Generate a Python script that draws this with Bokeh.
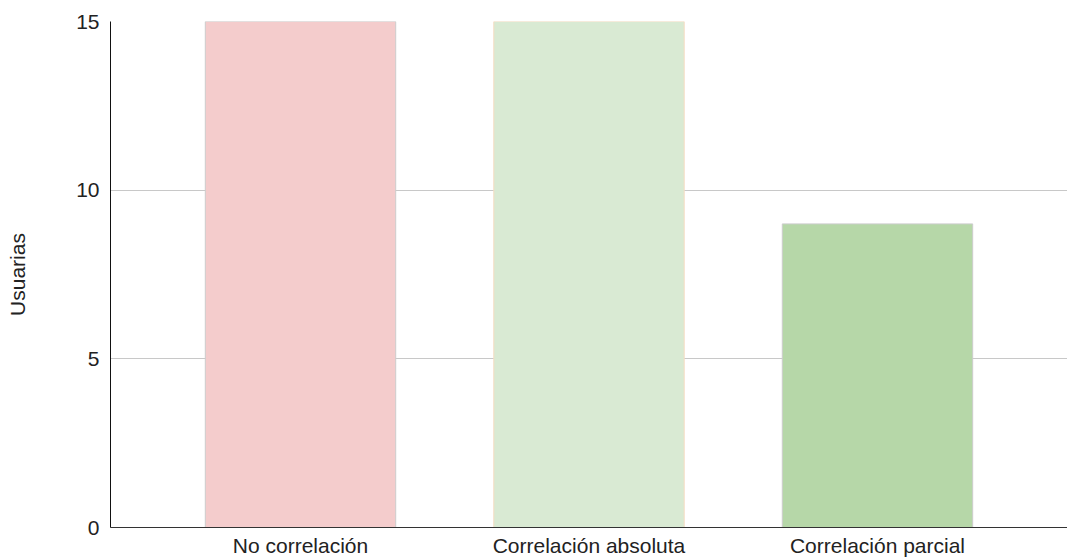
from bokeh.plotting import figure
from bokeh.models import FactorRange, ColumnDataSource, FixedTicker
from bokeh.embed import file_html
from bokeh.resources import INLINE

categories = ["No correlación", "Correlación absoluta", "Correlación parcial"]
usuarias = [15, 15, 9]
bar_colors = ["#f4cccc", "#d9ead3", "#b6d7a8"]
bar_lines = ["#cccccc", "#f6dcc2", "#cccccc"]
y_ticks = [0, 5, 10, 15]

source = ColumnDataSource(dict(cat=categories, val=usuarias, fill=bar_colors, line=bar_lines))

p = figure(
    width=1067, height=559,
    x_range=FactorRange(factors=categories, range_padding=0.1586, range_padding_units="absolute"),
    y_range=(0, 15),
    output_backend="svg", toolbar_location=None,
    min_border_left=110, min_border_right=0, min_border_top=21, min_border_bottom=31,
)
p.vbar(x="cat", top="val", width=0.66, source=source,
       fill_color="fill", line_color="line", line_width=1)

font = "Liberation Sans"
p.outline_line_color = None
p.xgrid.grid_line_color = None
p.ygrid.grid_line_color = "#c8c8c8"
p.ygrid.grid_line_width = 1

p.yaxis.ticker = FixedTicker(ticks=y_ticks)
p.yaxis.axis_label = "Usuarias"
p.yaxis.axis_label_text_font = font
p.yaxis.axis_label_text_font_size = "21px"
p.yaxis.axis_label_text_font_style = "normal"
p.yaxis.axis_label_text_color = "#222222"
p.yaxis.axis_label_standoff = 44
p.yaxis.major_label_standoff = 11
p.yaxis.axis_line_color = "#111111"

for ax in (p.xaxis[0], p.yaxis[0]):
    ax.major_label_text_font = font
    ax.major_label_text_font_size = "21px"
    ax.major_label_text_color = "#222222"
    ax.major_tick_line_color = None
    ax.minor_tick_line_color = None
    ax.major_tick_out = 0
    ax.major_tick_in = 0

p.xaxis.axis_line_color = "#333333"
p.xaxis.major_label_standoff = 6

open("out.html", "w").write(file_html(p, INLINE))
